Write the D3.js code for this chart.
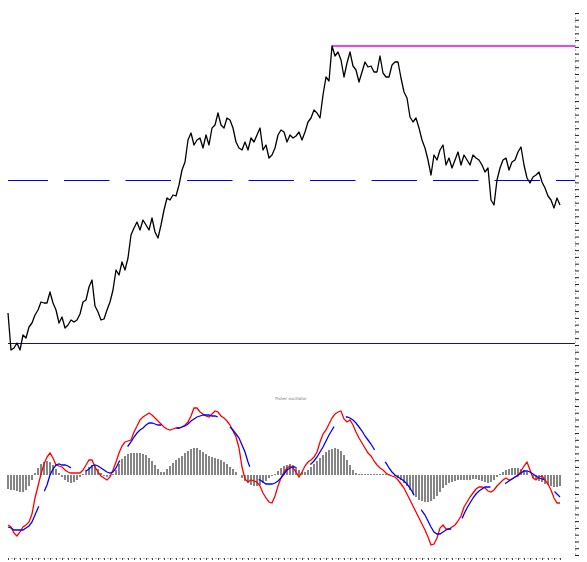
<!DOCTYPE html>
<html>
<head>
<meta charset="utf-8">
<script src="https://cdn.jsdelivr.net/npm/d3@7"></script>
<style>
  html,body{margin:0;padding:0;background:#fff;}
  svg{display:block;}
</style>
</head>
<body>
<div id="chart"></div>
<script>
// price panel (arbitrary units) + oscillator panel below

const price=[
  47,10,12,17,10,25,22,33,37,45,
  50,58,57,57,68,57,50,37,43,32,
  35,40,38,40,46,58,60,73,80,54,
  48,40,41,50,58,70,90,85,98,90,
  102,125,132,138,130,140,135,130,142,128,
  122,135,150,162,160,165,164,175,190,198,
  220,227,215,220,222,212,225,215,232,235,
  247,235,232,242,240,232,218,212,210,218,
  210,222,218,225,232,210,215,202,205,212,
  225,230,228,218,225,222,224,228,220,228,
  238,242,250,247,242,265,283,279,314,304,
  308,300,283,297,308,294,290,278,288,298,
  293,294,288,288,304,287,283,283,295,298,
  298,282,268,262,243,238,242,232,220,212,
  200,185,205,200,210,215,195,202,192,200,
  208,195,205,200,195,205,202,200,195,188,
  192,160,155,180,192,200,202,190,198,200,
  208,213,195,182,177,183,185,188,178,172,
  164,160,152,162,155
];

const macd=[
  -50,-52,-58,-61,-57,-52,-50,-47,-39,-23,
  -11,1,11,18,22,17,10,9,8,5,
  3,2,2,2,2,5,10,15,15,8,
  3,-1,-3,-5,-2,5,13,22,29,33,
  34,35,43,49,55,58,60,62,60,57,
  54,51,48,46,45,46,47,47,48,50,
  53,59,67,67,63,61,59,58,61,64,
  63,59,57,54,50,44,38,27,8,-4,
  -7,-5,-6,-7,-11,-18,-23,-27,-28,-21,
  -11,-3,3,7,9,7,3,-2,3,9,
  13,15,18,23,33,41,45,51,57,61,
  63,64,56,53,55,50,43,37,32,27,
  22,19,14,10,7,5,2,0,-1,-2,
  -5,-9,-13,-19,-25,-31,-37,-43,-49,-55,
  -62,-70,-69,-63,-53,-50,-54,-54,-52,-50,
  -46,-41,-32,-27,-22,-18,-14,-12,-12,-13,
  -16,-17,-15,-11,-8,-5,-3,-5,-4,-2,
  -1,4,9,13,5,-3,-5,-2,-1,-5,
  -9,-15,-23,-28,-28
];

const signal=[
  -52,-53,-55,-55,-55,-55,-53,-51,-47,-40,
  -33,-25,-17,-10,0,6,10,11,10,10,
  9,7,6,4,3,3,4,6,9,10,
  9,7,5,3,2,3,7,13,19,25,
  29,33,38,42,45,47,50,52,52,51,
  50,50,48,48,47,47,47,47,48,49,
  51,54,56,58,59,60,60,60,59,59,
  58,56,54,51,48,45,41,37,30,23,
  13,5,0,-4,-5,-7,-9,-9,-9,-8,
  -6,-3,1,5,7,8,8,7,7,7,
  9,11,14,18,23,28,34,40,45,50,
  54,57,58,58,57,55,52,48,44,39,
  35,31,26,22,18,15,12,7,3,0,
  -2,-4,-6,-9,-13,-18,-24,-31,-36,-40,
  -46,-52,-57,-59,-59,-57,-55,-54,-54,-53,
  -50,-46,-39,-33,-28,-23,-19,-16,-14,-12,
  -12,-12,-13,-13,-12,-10,-8,-6,-4,-2,
  0,2,4,4,3,1,-1,-3,-4,-5,
  -8,-12,-16,-19,-22
];

const hist=[
  -14,-15,-15,-16,-17,-17,-15,-11,-5,2,
  7,11,13,14,13,10,6,2,-2,-5,
  -7,-8,-7,-5,-2,1,5,8,10,9,
  6,2,-1,-2,-1,1,5,11,16,19,
  21,22,22,22,22,21,20,17,14,10,
  6,3,3,6,9,12,15,17,19,22,
  24,26,27,27,25,23,21,19,18,17,
  16,15,13,11,8,6,3,0,-3,-6,
  -8,-10,-11,-11,-10,-8,-6,-3,-1,1,
  4,7,9,10,11,10,8,5,3,3,
  5,8,11,14,17,20,23,25,26,27,
  26,24,20,15,10,5,2,1,1,1,
  1,1,1,1,1,1,1,1,0,-1,
  -3,-5,-8,-11,-15,-19,-22,-25,-26,-27,
  -27,-26,-24,-21,-17,-13,-10,-8,-7,-6,
  -5,-5,-5,-5,-5,-4,-4,-5,-6,-7,
  -8,-7,-5,-2,1,3,5,6,7,7,
  7,6,5,3,0,-3,-5,-6,-7,-9,
  -10,-11,-12,-12,-11
];

const supportLevel=17;   // dark line under the price
const midLevel=180;      // long-dash blue level
const oscTitle="Fisher oscillator";

const W=587,H=562;
const N=price.length;

const svg=d3.select("#chart").append("svg")
  .attr("width",W).attr("height",H);

const x=d3.scaleLinear().domain([0,N-1]).range([8,560]);
const yTop=d3.scaleLinear().domain([0,346]).range([360,14]);
const yBot=d3.scaleLinear().domain([-80,80]).range([555,395]);
const rightEdge=575;

// ---- price panel ----
const iMax=d3.maxIndex(price);

// +0.5 keeps the 1px level lines crisp
svg.append("line")
  .attr("x1",x(0)).attr("x2",rightEdge)
  .attr("y1",yTop(supportLevel)+0.5).attr("y2",yTop(supportLevel)+0.5)
  .attr("stroke","#14147a").attr("stroke-width",1);

svg.append("line")
  .attr("x1",x(0)).attr("x2",rightEdge)
  .attr("y1",yTop(midLevel)+0.5).attr("y2",yTop(midLevel)+0.5)
  .attr("stroke","#0000ee").attr("stroke-width",1)
  .attr("stroke-dasharray","45.5,16").attr("stroke-dashoffset",5.5);

svg.append("line")
  .attr("x1",x(iMax)).attr("x2",rightEdge)
  .attr("y1",yTop(price[iMax])).attr("y2",yTop(price[iMax]))
  .attr("stroke","#ee44ee").attr("stroke-width",2);

svg.append("path").datum(price)
  .attr("fill","none").attr("stroke","#000").attr("stroke-width",1.3)
  .attr("stroke-linejoin","round")
  .attr("d",d3.line().x((d,i)=>x(i)).y(d=>yTop(d)));

// ---- oscillator panel ----
svg.append("g").selectAll("rect").data(hist).join("rect")
  .attr("x",(d,i)=>x(i)-1).attr("width",2)
  .attr("y",d=>yBot(Math.max(d,0)))
  .attr("height",d=>Math.abs(yBot(d)-yBot(0)))
  .attr("fill","#858585");

svg.append("path").datum(macd)
  .attr("fill","none").attr("stroke","#ff0000").attr("stroke-width",1.3)
  .attr("d",d3.line().x((d,i)=>x(i)).y(d=>yBot(d)));

svg.append("path").datum(signal)
  .attr("fill","none").attr("stroke","#0000ff").attr("stroke-width",1.3)
  .attr("stroke-dasharray","45,16")
  .attr("d",d3.line().x((d,i)=>x(i)).y(d=>yBot(d)));

svg.append("text").attr("x",291).attr("y",400)
  .attr("text-anchor","middle").attr("fill","#777")
  .style("font-family","'DejaVu Sans', sans-serif").style("font-size","4px")
  .text(oscTitle);

// ---- axes (no labels, just ticks) ----
const tickScale=d3.scaleLinear().domain([0,80]).range([555,13]);
svg.append("g").attr("transform",`translate(${rightEdge},0)`)
  .call(d3.axisRight(tickScale).tickValues(d3.range(0,81)).tickSize(4).tickFormat(""))
  .call(a=>a.select(".domain").attr("stroke","#bbb").attr("stroke-dasharray","2,2"))
  .call(a=>a.selectAll(".tick line").attr("stroke","#222"));

svg.append("g").attr("transform",`translate(0,558)`)
  .call(d3.axisBottom(x).tickValues(d3.range(0,N,2)).tickSize(2).tickFormat(""))
  .call(a=>a.select(".domain").attr("stroke","#bbb").attr("stroke-dasharray","2,2"))
  .call(a=>a.selectAll(".tick line").attr("stroke","#444"));
</script>
</body>
</html>
